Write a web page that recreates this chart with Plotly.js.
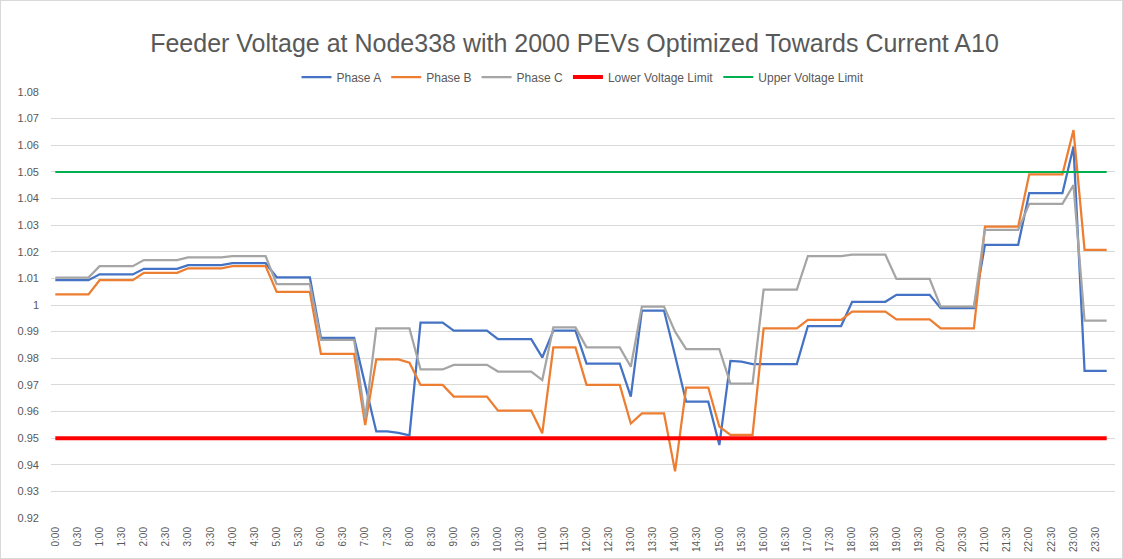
<!DOCTYPE html>
<html>
<head>
<meta charset="utf-8">
<script src="https://cdn.plot.ly/plotly-3.0.1.min.js"></script>
<style>
html,body{margin:0;padding:0;background:#fff;}
#chart{width:1121px;height:557px;border:1px solid #d9d9d9;}
</style>
</head>
<body>
<div id="chart"></div>
<script>
const times = ["0:00","0:15","0:30","0:45","1:00","1:15","1:30","1:45","2:00","2:15","2:30","2:45",
"3:00","3:15","3:30","3:45","4:00","4:15","4:30","4:45","5:00","5:15","5:30","5:45",
"6:00","6:15","6:30","6:45","7:00","7:15","7:30","7:45","8:00","8:15","8:30","8:45",
"9:00","9:15","9:30","9:45","10:00","10:15","10:30","10:45","11:00","11:15","11:30","11:45",
"12:00","12:15","12:30","12:45","13:00","13:15","13:30","13:45","14:00","14:15","14:30","14:45",
"15:00","15:15","15:30","15:45","16:00","16:15","16:30","16:45","17:00","17:15","17:30","17:45",
"18:00","18:15","18:30","18:45","19:00","19:15","19:30","19:45","20:00","20:15","20:30","20:45",
"21:00","21:15","21:30","21:45","22:00","22:15","22:30","22:45","23:00","23:15","23:30","23:45"];

const tickLabels = ["0:00","0:30","1:00","1:30","2:00","2:30","3:00","3:30","4:00","4:30","5:00","5:30",
"6:00","6:30","7:00","7:30","8:00","8:30","9:00","9:30","10:00","10:30","11:00","11:30",
"12:00","12:30","13:00","13:30","14:00","14:30","15:00","15:30","16:00","16:30","17:00","17:30",
"18:00","18:30","19:00","19:30","20:00","20:30","21:00","21:30","22:00","22:30","23:00","23:30"];

const phaseA = [1.0093,1.0093,1.0093,1.0093,1.0115,1.0115,1.0115,1.0115,1.0136,1.0136,1.0136,1.0136,
1.0150,1.0150,1.0150,1.0150,1.0157,1.0157,1.0157,1.0157,1.0104,1.0104,1.0104,1.0104,
0.9877,0.9877,0.9877,0.9877,0.9700,0.9525,0.9525,0.9520,0.9510,0.9934,0.9934,0.9934,
0.9904,0.9904,0.9904,0.9904,0.9872,0.9872,0.9872,0.9872,0.9803,0.9904,0.9904,0.9904,
0.9780,0.9780,0.9780,0.9780,0.9656,0.9979,0.9979,0.9979,0.9810,0.9637,0.9637,0.9637,
0.9474,0.9790,0.9787,0.9778,0.9778,0.9778,0.9778,0.9778,0.9921,0.9921,0.9921,0.9921,
1.0012,1.0012,1.0012,1.0012,1.0038,1.0038,1.0038,1.0038,0.9988,0.9988,0.9988,0.9988,
1.0226,1.0226,1.0226,1.0226,1.0420,1.0420,1.0420,1.0420,1.0595,0.9753,0.9753,0.9753];

const phaseB = [1.0040,1.0040,1.0040,1.0040,1.0093,1.0093,1.0093,1.0093,1.0121,1.0121,1.0121,1.0121,
1.0138,1.0138,1.0138,1.0138,1.0146,1.0146,1.0146,1.0146,1.0049,1.0049,1.0049,1.0049,
0.9816,0.9816,0.9816,0.9816,0.9549,0.9796,0.9796,0.9796,0.9783,0.9700,0.9700,0.9700,
0.9656,0.9656,0.9656,0.9656,0.9603,0.9603,0.9603,0.9603,0.9518,0.9841,0.9841,0.9841,
0.9700,0.9700,0.9700,0.9700,0.9555,0.9593,0.9593,0.9593,0.9375,0.9690,0.9690,0.9690,
0.9543,0.9512,0.9512,0.9512,0.9912,0.9912,0.9912,0.9912,0.9944,0.9944,0.9944,0.9944,
0.9975,0.9975,0.9975,0.9975,0.9946,0.9946,0.9946,0.9946,0.9912,0.9912,0.9912,0.9912,
1.0294,1.0294,1.0294,1.0294,1.0491,1.0491,1.0491,1.0491,1.0657,1.0207,1.0207,1.0207];

const phaseC = [1.0103,1.0103,1.0103,1.0103,1.0146,1.0146,1.0146,1.0146,1.0169,1.0169,1.0169,1.0169,
1.0179,1.0179,1.0179,1.0179,1.0184,1.0184,1.0184,1.0184,1.0078,1.0078,1.0078,1.0078,
0.9869,0.9869,0.9869,0.9869,0.9574,0.9912,0.9912,0.9912,0.9912,0.9758,0.9758,0.9758,
0.9775,0.9775,0.9775,0.9775,0.9750,0.9750,0.9750,0.9750,0.9718,0.9916,0.9916,0.9916,
0.9841,0.9841,0.9841,0.9841,0.9768,0.9994,0.9994,0.9994,0.9900,0.9834,0.9834,0.9834,
0.9834,0.9705,0.9705,0.9705,1.0058,1.0058,1.0058,1.0058,1.0184,1.0184,1.0184,1.0184,
1.0189,1.0189,1.0189,1.0189,1.0098,1.0098,1.0098,1.0098,0.9994,0.9994,0.9994,0.9994,
1.0282,1.0282,1.0282,1.0282,1.0380,1.0380,1.0380,1.0380,1.0450,0.9941,0.9941,0.9941];

const lowerLimit = 0.95;
const upperLimit = 1.05;

const lowerSeries = times.map(() => lowerLimit);
const upperSeries = times.map(() => upperLimit);

const traces = [
  {x: times, y: phaseA, name: "Phase A", type: "scatter", mode: "lines", line: {color: "#4472C4", width: 2.25}},
  {x: times, y: phaseB, name: "Phase B", type: "scatter", mode: "lines", line: {color: "#ED7D31", width: 2.25}},
  {x: times, y: phaseC, name: "Phase C", type: "scatter", mode: "lines", line: {color: "#A5A5A5", width: 2.25}},
  {x: times, y: lowerSeries, name: "Lower Voltage Limit", type: "scatter", mode: "lines", line: {color: "#FF0000", width: 4}},
  {x: times, y: upperSeries, name: "Upper Voltage Limit", type: "scatter", mode: "lines", line: {color: "#00B050", width: 2}}
];

const layout = {
  width: 1121, height: 557,
  margin: {l: 50, r: 7, t: 91, b: 40},
  paper_bgcolor: "#fff", plot_bgcolor: "#fff",
  font: {family: "Liberation Sans, Arial, sans-serif", color: "#595959"},
  title: {text: "Feeder Voltage at Node338 with 2000 PEVs Optimized Towards Current A10",
          font: {size: 25, color: "#595959", family: "Liberation Sans, Arial, sans-serif"},
          x: 0.5116, xanchor: "center", y: 0.925, yanchor: "middle"},
  showlegend: true,
  legend: {orientation: "h", x: 0.5, xanchor: "center", y: 1.035, yanchor: "middle",
           font: {size: 12, color: "#595959"}, itemwidth: 30, tracegroupgap: 0},
  xaxis: {type: "category", range: [-0.39, 95.75], tickmode: "array", tickvals: tickLabels, ticktext: tickLabels,
          tickangle: -90, tickfont: {size: 10, color: "#595959"}, showgrid: false, zeroline: false,
          showline: false, ticks: "", ticklabelstandoff: 6, fixedrange: true},
  yaxis: {range: [0.92, 1.08], dtick: 0.01, tick0: 0.92, tickfont: {size: 11, color: "#595959"},
          showgrid: true, gridcolor: "#d9d9d9", gridwidth: 1, zeroline: false, showline: false,
          ticks: "", ticklabelstandoff: 11}
};

Plotly.newPlot("chart", traces, layout, {displayModeBar: false, staticPlot: true});
</script>
</body>
</html>
